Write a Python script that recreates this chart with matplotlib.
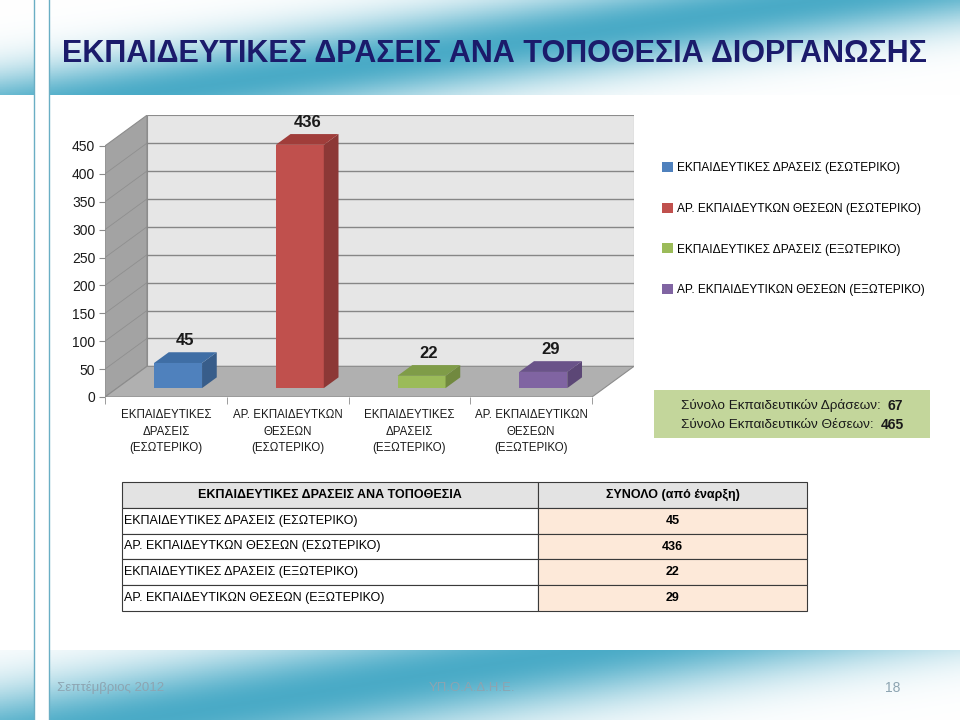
import numpy as np
import matplotlib
matplotlib.use('Agg')
import matplotlib.pyplot as plt
from matplotlib.patches import Polygon, Rectangle

# ---- data ----
categories = ['ΕΚΠΑΙΔΕΥΤΙΚΕΣ\nΔΡΑΣΕΙΣ\n(ΕΣΩΤΕΡΙΚΟ)',
              'ΑΡ. ΕΚΠΑΙΔΕΥΤΚΩΝ\nΘΕΣΕΩΝ\n(ΕΣΩΤΕΡΙΚΟ)',
              'ΕΚΠΑΙΔΕΥΤΙΚΕΣ\nΔΡΑΣΕΙΣ\n(ΕΞΩΤΕΡΙΚΟ)',
              'ΑΡ. ΕΚΠΑΙΔΕΥΤΙΚΩΝ\nΘΕΣΕΩΝ\n(ΕΞΩΤΕΡΙΚΟ)']
series_names = [c.replace('\n', ' ') for c in categories]
values = [45, 436, 22, 29]
yticks = list(range(0, 451, 50))
total_actions = 67
total_positions = 465
table_header = ['ΕΚΠΑΙΔΕΥΤΙΚΕΣ ΔΡΑΣΕΙΣ ΑΝΑ ΤΟΠΟΘΕΣΙΑ', 'ΣΥΝΟΛΟ (από έναρξη)']
title = 'ΕΚΠΑΙΔΕΥΤΙΚΕΣ ΔΡΑΣΕΙΣ ΑΝΑ ΤΟΠΟΘΕΣΙΑ ΔΙΟΡΓΑΝΩΣΗΣ'
footer_date = 'Σεπτέμβριος 2012'
footer_org = 'ΥΠ.Ο.Α.Δ.Η.Ε.'
page_no = '18'

front = ['#4f81bd', '#c0504d', '#9bbb59', '#8064a2']
side = ['#385d8a', '#8c3836', '#71893f', '#5c4776']
top = ['#3f6ea5', '#a03d3a', '#7f9c48', '#6a5389']

plt.rcParams['font.family'] = ['Liberation Sans', 'DejaVu Sans']

fig = plt.figure(figsize=(9.6, 7.2), dpi=100)

# ---- slide background (pixel coords) ----
bg = fig.add_axes([0, 0, 1, 1], zorder=0)
bg.set_xlim(0, 960)
bg.set_ylim(720, 0)
bg.axis('off')
teal = np.array([0.29, 0.67, 0.78])


def band(h, w, p0, slope, sig):
    u = np.linspace(0, 1, w)[None, :]
    v = np.linspace(0, 1, h)[:, None]
    k = np.exp(-((u - (p0 - slope * v)) / sig) ** 2)
    return (1 - k[..., None]) * 1.0 + k[..., None] * teal


bg.imshow(band(60, 300, 0.85, 0.7, 0.32), extent=(0, 960, 95, 0), aspect='auto', zorder=0)
bg.imshow(band(40, 300, 0.6, 0.45, 0.35), extent=(0, 960, 720, 650), aspect='auto', zorder=0)
bg.add_patch(Rectangle((34, 0), 15, 720, facecolor='white', edgecolor='none', zorder=1))
bg.plot([34, 34], [0, 720], color='#6aaec4', lw=1, zorder=2)
bg.plot([49, 49], [0, 720], color='#6aaec4', lw=1, zorder=2)

bg.text(62, 54, title, fontsize=22, fontweight='bold', color='#1b1b6b', va='center', ha='left')
bg.text(57, 688, footer_date, fontsize=9.5, color='#8da4b1', va='center')
bg.text(472, 688, footer_org, fontsize=9.5, color='#8da4b1', va='center', ha='center')
bg.text(893, 688, page_no, fontsize=10, color='#8da4b1', va='center', ha='center')

# summary box
bg.add_patch(Rectangle((654, 390), 276, 48, facecolor='#c3d69b', edgecolor='none'))
t1 = bg.text(681, 406, 'Σύνολο Εκπαιδευτικών Δράσεων:', fontsize=9.7, color='#1a1a1a', va='center')
t2 = bg.text(681, 425, 'Σύνολο Εκπαιδευτικών Θέσεων:', fontsize=9.7, color='#1a1a1a', va='center')
bg.annotate(str(total_actions), xy=(1, 0.5), xycoords=t1, xytext=(5, 0), textcoords='offset points',
            fontsize=10, fontweight='bold', va='center', color='#1a1a1a')
bg.annotate(str(total_positions), xy=(1, 0.5), xycoords=t2, xytext=(5, 0), textcoords='offset points',
            fontsize=10, fontweight='bold', va='center', color='#1a1a1a')

# ---- 3D-look bar chart ----
DX = 42 / 121.75   # depth offset in category units
DY = 55            # depth offset in value units
ymax = 450
ax = fig.add_axes([105 / 960, (720 - 397) / 720, 529 / 960, (ymax + DY) * 0.558 / 720], zorder=2)
ax.set_xlim(-0.5, 3.5 + DX)
ax.set_ylim(0, ymax + DY)
ax.set_facecolor('none')
for s in ax.spines.values():
    s.set_visible(False)

x0, x1 = -0.5, len(values) - 0.5
ax.add_patch(Polygon([(x0, 0), (x0, ymax), (x0 + DX, ymax + DY), (x0 + DX, DY)],
                     facecolor='#a3a3a3', edgecolor='#8c8c8c', lw=0.8, zorder=1))
ax.add_patch(Polygon([(x0 + DX, DY), (x1 + DX, DY), (x1 + DX, ymax + DY), (x0 + DX, ymax + DY)],
                     facecolor='#e6e6e6', edgecolor='#8c8c8c', lw=0.8, zorder=1))
ax.add_patch(Polygon([(x0, 0), (x1, 0), (x1 + DX, DY), (x0 + DX, DY)],
                     facecolor='#b0b0b0', edgecolor='#8c8c8c', lw=0.8, zorder=1))
for v in yticks[1:-1]:
    ax.plot([x0 + DX, x1 + DX], [v + DY, v + DY], color='#868686', lw=1, zorder=2)
    ax.plot([x0, x0 + DX], [v, v + DY], color='#8f8f8f', lw=0.6, zorder=2)

f0, fd = 0.29, 0.35
bw = 48 / 121.75
xs = np.arange(len(values)) + f0 * DX
b = f0 * DY
ddx, ddy = fd * DX, fd * DY
bars = []
for i, v in enumerate(values):
    bc = ax.bar(xs[i], v, width=bw, bottom=b, color=front[i], zorder=5, label=series_names[i])
    bars.append(bc)
    xl, xr = xs[i] - bw / 2, xs[i] + bw / 2
    ax.add_patch(Polygon([(xr, b), (xr, b + v), (xr + ddx, b + v + ddy), (xr + ddx, b + ddy)],
                         facecolor=side[i], edgecolor='none', zorder=5))
    ax.add_patch(Polygon([(xl, b + v), (xr, b + v), (xr + ddx, b + v + ddy), (xl + ddx, b + v + ddy)],
                         facecolor=top[i], edgecolor='none', zorder=5))
    ax.annotate(str(v), (xs[i] + ddx / 2, b + v + ddy), xytext=(0, 3), textcoords='offset points',
                ha='center', va='bottom', fontsize=12, fontweight='bold', color='#1a1a1a',
                annotation_clip=False, zorder=6)

ax.set_yticks(yticks)
ax.set_yticklabels([str(t) for t in yticks], fontsize=10, color='#1a1a1a')
ax.tick_params(axis='y', length=4, color='#8c8c8c', pad=3)
ax.set_xticks(range(len(values)))
ax.set_xticklabels(categories, fontsize=8.3, color='#1a1a1a', linespacing=1.5)
ax.set_xticks(np.arange(x0, x1 + 0.1, 1), minor=True)
ax.tick_params(axis='x', which='major', length=0, pad=9)
ax.tick_params(axis='x', which='minor', length=5, color='#8c8c8c')

fig.legend(handles=[bc[0] for bc in bars], labels=series_names, loc='upper left',
           bbox_to_anchor=(662 / 960, 1 - 162 / 720), frameon=False, fontsize=8.6,
           labelspacing=2.4, handlelength=0.9, handleheight=0.9, handletextpad=0.35,
           borderaxespad=0, borderpad=0)

# ---- table ----
axt = fig.add_axes([122 / 960, (720 - 611) / 720, 685 / 960, 129 / 720], zorder=3)
axt.axis('off')
rows = [[n, str(v)] for n, v in zip(series_names, values)]
tbl = axt.table(cellText=rows, colLabels=table_header, colWidths=[416 / 685, 269 / 685],
                bbox=[0, 0, 1, 1], cellLoc='left', colLoc='center')
tbl.auto_set_font_size(False)
tbl.set_fontsize(9)
for (r, c), cell in tbl.get_celld().items():
    cell.set_edgecolor('#3a3a3a')
    cell.set_linewidth(0.8)
    if r == 0:
        cell.set_facecolor('#e3e3e3')
        cell.set_text_props(fontweight='bold')
    elif c == 1:
        cell.set_facecolor('#fde9d9')
        cell._loc = 'center'
        cell.set_text_props(fontweight='bold', ha='center')
    else:
        cell.set_facecolor('white')
        cell.PAD = 0.005

fig.savefig('out.png', dpi=100)
